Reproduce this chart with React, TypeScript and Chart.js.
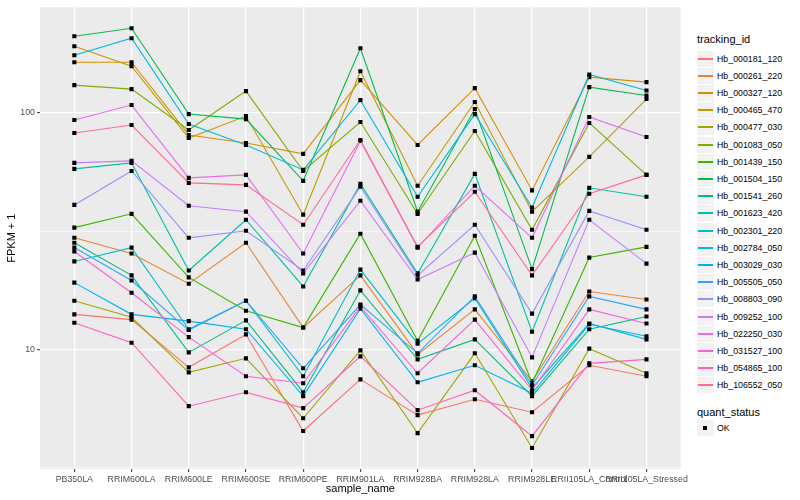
import React, { useEffect, useRef } from "react";
import { Chart, registerables } from "chart.js";

Chart.register(...registerables);

const categories = [
  "PB350LA", "RRIM600LA", "RRIM600LE", "RRIM600SE", "RRIM600PE", "RRIM901LA",
  "RRIM928BA", "RRIM928LA", "RRIM928LE", "RRII105LA_Control", "RRII105LA_Stressed",
];

const trackingIds = [
  "Hb_000181_120", "Hb_000261_220", "Hb_000327_120", "Hb_000465_470", "Hb_000477_030",
  "Hb_001083_050", "Hb_001439_150", "Hb_001504_150", "Hb_001541_260", "Hb_001623_420",
  "Hb_002301_220", "Hb_002784_050", "Hb_003029_030", "Hb_005505_050", "Hb_008803_090",
  "Hb_009252_100", "Hb_022250_030", "Hb_031527_100", "Hb_054865_100", "Hb_106552_050",
];

const seriesColors = [
  "#F8766D", "#EA8331", "#D89000", "#C09B00", "#A3A500", "#7CAE00", "#39B600", "#00BB4E",
  "#00BF7D", "#00C1A3", "#00BFC4", "#00BAE0", "#00B0F6", "#35A2FF", "#9590FF", "#C77CFF",
  "#E76BF3", "#FA62DB", "#FF62BC", "#FF6C91",
];

// FPKM + 1 per sample, in the order of `categories`
const hb000181_120 = [14.1, 13.4, 8.42, 11.6, 4.53, 7.49, 5.29, 6.17, 5.44, 8.59, 7.72];
const hb000261_220 = [29.7, 25.5, 19.0, 28.3, 12.4, 20.6, 9.55, 14.8, 7.35, 17.6, 16.3];
const hb000327_120 = [164.0, 164.0, 80.8, 74.7, 67.2, 137.7, 73.3, 127.4, 47.1, 141.8, 135.1];
const hb000465_470 = [191.6, 157.8, 78.4, 97.1, 37.2, 150.3, 49.3, 111.3, 38.3, 65.3, 114.6];
const hb000477_030 = [16.1, 13.7, 8.02, 9.19, 5.13, 9.93, 4.44, 9.65, 3.84, 10.1, 7.95];
const hb001083_050 = [131.2, 126.2, 84.8, 123.8, 56.9, 91.6, 37.5, 84.0, 32.1, 90.8, 54.8];
const hb001439_150 = [32.8, 37.5, 20.2, 14.6, 12.4, 30.9, 10.9, 30.3, 7.21, 24.5, 27.2];
const hb001504_150 = [211.1, 228.2, 99.0, 94.3, 51.7, 187.9, 38.3, 104.0, 21.9, 128.7, 118.7];
const hb001541_260 = [28.3, 20.6, 9.74, 13.3, 6.61, 17.8, 9.1, 11.05, 6.36, 12.2, 13.8];
const hb001623_420 = [58.1, 61.6, 21.6, 35.4, 18.5, 50.2, 21.0, 55.3, 11.9, 48.3, 44.3];
const hb002301_220 = [23.6, 27.0, 12.2, 16.1, 7.72, 21.8, 10.6, 16.5, 6.87, 12.9, 11.05];
const hb002784_050 = [175.6, 207.1, 89.9, 73.3, 57.5, 113.4, 44.3, 99.0, 39.9, 145.6, 124.6];
const hb003029_030 = [19.2, 14.1, 13.2, 12.2, 6.36, 14.9, 7.28, 8.59, 6.54, 12.8, 11.4];
const hb005505_050 = [27.0, 19.6, 12.1, 16.1, 8.34, 15.5, 9.65, 16.8, 7.07, 16.8, 14.8];
const hb008803_090 = [40.9, 56.9, 29.7, 31.8, 21.6, 48.8, 20.6, 33.7, 14.2, 38.6, 32.1];
const hb009252_100 = [61.6, 62.8, 40.6, 38.3, 21.0, 42.6, 19.8, 25.7, 9.28, 35.4, 23.1];
const hb022250_030 = [93.4, 108.1, 53.2, 54.8, 25.5, 76.2, 27.0, 49.3, 29.7, 96.2, 79.2];
const hb031527_100 = [26.0, 17.4, 11.3, 7.72, 7.21, 15.2, 7.95, 13.4, 6.74, 14.8, 12.9];
const hb054865_100 = [13.0, 10.7, 5.77, 6.61, 5.66, 9.37, 5.55, 6.74, 4.31, 8.75, 9.1];
const hb106552_050 = [82.4, 89.0, 50.7, 49.7, 33.7, 76.9, 27.2, 46.5, 20.6, 45.6, 54.8];

const seriesValues = [
  hb000181_120, hb000261_220, hb000327_120, hb000465_470, hb000477_030,
  hb001083_050, hb001439_150, hb001504_150, hb001541_260, hb001623_420,
  hb002301_220, hb002784_050, hb003029_030, hb005505_050, hb008803_090,
  hb009252_100, hb022250_030, hb031527_100, hb054865_100, hb106552_050,
];

const majorTickValues = [10, 100];
const quantStatus = ["OK"];

const FONT = "'Liberation Sans', Arial, Helvetica, sans-serif";

const isMajor = (v: number) => majorTickValues.some((m) => Math.abs(m - v) < 1e-6);

const panelBg = {
  id: "panelBg",
  beforeDraw(chart: any) {
    const { ctx, chartArea } = chart;
    ctx.save();
    ctx.fillStyle = "#EBEBEB";
    ctx.fillRect(chartArea.left, chartArea.top, chartArea.right - chartArea.left, chartArea.bottom - chartArea.top);
    ctx.restore();
  },
};

export default function App() {
  const canvasRef = useRef<HTMLCanvasElement | null>(null);

  useEffect(() => {
    if (!canvasRef.current) return;
    const all = seriesValues.flat().map((v) => Math.log10(v));
    const lo = Math.min(...all);
    const hi = Math.max(...all);
    const pad = (hi - lo) * 0.05;
    const yMin = Math.pow(10, lo - pad);
    const yMax = Math.pow(10, hi + pad);

    const chart = new Chart(canvasRef.current, {
      type: "line",
      data: {
        datasets: seriesValues.map((vals, s) => ({
          label: trackingIds[s],
          data: vals.map((v, i) => ({ x: i, y: v })),
          borderColor: seriesColors[s],
          backgroundColor: seriesColors[s],
          borderWidth: 1.1,
          tension: 0,
          fill: false,
          pointStyle: "rect",
          pointRadius: 2.9,
          pointBackgroundColor: "#000000",
          pointBorderWidth: 0,
          order: seriesValues.length - s,
        })),
      },
      options: {
        animation: false,
        responsive: false,
        devicePixelRatio: 1,
        layout: { padding: { top: 6, right: 2, bottom: 0, left: 0 } },
        plugins: { legend: { display: false }, tooltip: { enabled: false } },
        scales: {
          x: {
            type: "linear",
            min: -0.6,
            max: categories.length - 1 + 0.6,
            afterBuildTicks: (scale: any) => {
              scale.ticks = categories.map((_, i) => ({ value: i }));
            },
            afterFit: (scale: any) => {
              scale.height = 31;
            },
            border: { display: false },
            grid: {
              color: "#FFFFFF",
              lineWidth: 1.3,
              drawTicks: true,
              tickLength: 3,
              tickColor: "#333333",
              tickWidth: 1,
            },
            ticks: {
              autoSkip: false,
              maxRotation: 0,
              minRotation: 0,
              padding: 2,
              color: "#4D4D4D",
              font: { family: FONT, size: 8.8 },
              callback: (v: any) => categories[v as number] ?? "",
            },
            title: {
              display: true,
              text: "sample_name",
              color: "#000000",
              font: { family: FONT, size: 11 },
              padding: { top: 0, bottom: 4 },
            },
          },
          y: {
            type: "logarithmic",
            min: yMin,
            max: yMax,
            afterBuildTicks: (scale: any) => {
              const t: any[] = [];
              for (let k = Math.floor(Math.log10(yMin)) - 1; k <= Math.ceil(Math.log10(yMax)); k++) {
                for (const v of [Math.pow(10, k), Math.pow(10, k + 0.5)]) {
                  if (v >= yMin && v <= yMax) t.push({ value: v, major: isMajor(v) });
                }
              }
              scale.ticks = t;
            },
            afterFit: (scale: any) => {
              scale.width = 40;
            },
            border: { display: false },
            grid: {
              color: "#FFFFFF",
              lineWidth: (c: any) => (c.tick && isMajor(c.tick.value) ? 1.3 : 0.6),
              drawTicks: true,
              tickLength: 3,
              tickColor: (c: any) => (c.tick && isMajor(c.tick.value) ? "#333333" : "rgba(0,0,0,0)"),
              tickWidth: 1,
            },
            ticks: {
              padding: 2,
              color: "#4D4D4D",
              font: { family: FONT, size: 8.8 },
              callback: (v: any) => (isMajor(Number(v)) ? String(Math.round(Number(v))) : ""),
            },
            title: {
              display: true,
              text: "FPKM + 1",
              color: "#000000",
              font: { family: FONT, size: 11 },
              padding: { top: 5, bottom: 0 },
            },
          },
        },
      } as any,
      plugins: [panelBg],
    });
    return () => chart.destroy();
  }, []);

  const legendLeft = 697;
  const keyStep = 17.2;
  const keyBox = 17;
  const firstKeyCenter = 59;

  return (
    <div
      style={{
        position: "fixed",
        left: 0,
        top: 0,
        width: 800,
        height: 500,
        background: "#FFFFFF",
        fontFamily: FONT,
        overflow: "hidden",
      }}
    >
      <canvas
        ref={canvasRef}
        width={690}
        height={500}
        style={{ position: "absolute", left: 0, top: 0, width: 690, height: 500 }}
      />
      <div
        style={{
          position: "absolute",
          left: legendLeft,
          top: 31,
          height: 16,
          lineHeight: "16px",
          fontSize: 11,
          color: "#000",
          whiteSpace: "nowrap",
        }}
      >
        tracking_id
      </div>
      {trackingIds.map((id, i) => {
        const cy = firstKeyCenter + keyStep * i;
        const boxTop = Math.round(cy - keyBox / 2);
        return (
          <React.Fragment key={id}>
            <div
              style={{
                position: "absolute",
                left: legendLeft,
                top: boxTop,
                width: keyBox,
                height: keyBox - 1,
                background: "#F2F2F2",
              }}
            >
              <div
                style={{
                  position: "absolute",
                  left: 1,
                  width: keyBox - 2,
                  top: 7,
                  height: 1.5,
                  background: seriesColors[i],
                }}
              />
            </div>
            <div
              style={{
                position: "absolute",
                left: 717,
                top: boxTop + 2,
                height: 12,
                lineHeight: "12px",
                fontSize: 8.8,
                color: "#000",
                whiteSpace: "nowrap",
              }}
            >
              {id}
            </div>
          </React.Fragment>
        );
      })}
      <div
        style={{
          position: "absolute",
          left: legendLeft,
          top: 404,
          height: 16,
          lineHeight: "16px",
          fontSize: 11,
          color: "#000",
          whiteSpace: "nowrap",
        }}
      >
        quant_status
      </div>
      {quantStatus.map((q, i) => {
        const cy = 428.3 + keyStep * i;
        const boxTop = Math.round(cy - keyBox / 2);
        return (
          <React.Fragment key={q}>
            <div
              style={{
                position: "absolute",
                left: legendLeft,
                top: boxTop,
                width: keyBox,
                height: keyBox - 1,
                background: "#F2F2F2",
              }}
            >
              <div
                style={{
                  position: "absolute",
                  left: 6,
                  top: 6,
                  width: 4,
                  height: 4,
                  background: "#000",
                }}
              />
            </div>
            <div
              style={{
                position: "absolute",
                left: 717,
                top: boxTop + 2,
                height: 12,
                lineHeight: "12px",
                fontSize: 8.8,
                color: "#000",
                whiteSpace: "nowrap",
              }}
            >
              {q}
            </div>
          </React.Fragment>
        );
      })}
    </div>
  );
}
